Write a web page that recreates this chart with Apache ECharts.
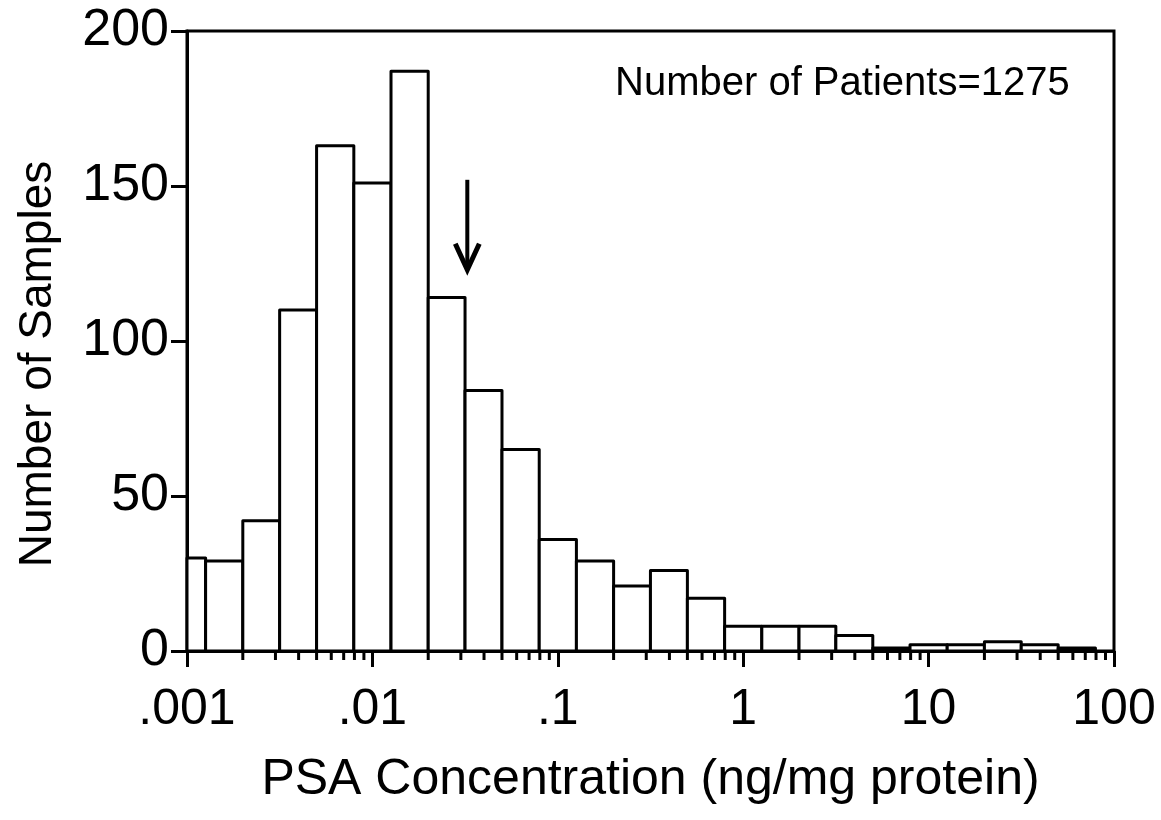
<!DOCTYPE html>
<html><head><meta charset="utf-8">
<script src="https://cdn.jsdelivr.net/npm/echarts@6/dist/echarts.min.js"></script>
<style>html,body{margin:0;padding:0;background:#fff}#c{width:1161px;height:820px}</style>
</head><body><div id="c"></div>
<script>
// Histogram bins (log-spaced, 0.2 decade wide; first bin clipped at axis min)
const binLower = [0.001, 0.00126, 0.002, 0.00316, 0.005, 0.00794, 0.0126, 0.02, 0.0316, 0.05, 0.0794, 0.126, 0.2, 0.316, 0.5, 0.794, 1.26, 2, 3.16, 5, 7.94, 12.6, 20, 31.6, 50];
const binUpper = [0.00126, 0.002, 0.00316, 0.005, 0.00794, 0.0126, 0.02, 0.0316, 0.05, 0.0794, 0.126, 0.2, 0.316, 0.5, 0.794, 1.26, 2, 3.16, 5, 7.94, 12.6, 20, 31.6, 50, 79.4];
const sampleCounts = [30, 29, 42, 110, 163, 151, 187, 114, 84, 65, 36, 29, 21, 26, 17, 8, 8, 8, 5, 1, 2, 2, 3, 2, 1];
const xTickValues = [0.001, 0.01, 0.1, 1, 10, 100];
const xTickLabels = ['.001', '.01', '.1', '1', '10', '100'];
const minorMultipliers = [2, 3, 4, 5, 6, 7, 8, 9];
const arrowMark = [0.0325, 152, 123]; // x, start y, tip y (data units)
const annotation = 'Number of Patients=1275';

const FONT = '"Liberation Sans", Arial, sans-serif';
const minorTicks = [];
xTickValues.slice(0, -1).forEach(d => minorMultipliers.forEach(m => minorTicks.push([d * m])));
const barData = binLower.map((lo, i) => [lo, binUpper[i], sampleCounts[i]]);

const chart = echarts.init(document.getElementById('c'));
chart.setOption({
  backgroundColor: '#fff',
  animation: false,
  grid: {left: 187, right: 47, top: 31, bottom: 169, show: true, borderColor: '#000', borderWidth: 3,
         containLabel: false, outerBoundsMode: 'none'},
  xAxis: {
    type: 'log', logBase: 10, min: 0.001, max: 100, splitNumber: 5,
    name: 'PSA Concentration (ng/mg protein)', nameLocation: 'middle', nameGap: 104,
    nameTextStyle: {fontFamily: FONT, fontSize: 50, color: '#000'},
    axisLine: {lineStyle: {color: '#000', width: 3}},
    axisTick: {inside: false, length: 16, lineStyle: {color: '#000', width: 3}},
    minorTick: {show: false},
    splitLine: {show: false},
    axisLabel: {fontFamily: FONT, fontSize: 50, color: '#000', margin: 34,
      formatter: v => { const e = Math.round(Math.log10(v)); const i = xTickValues.findIndex(t => Math.round(Math.log10(t)) === e); return i >= 0 ? xTickLabels[i] : ''; }}
  },
  yAxis: {
    type: 'value', min: 0, max: 200, interval: 50,
    name: 'Number of Samples', nameLocation: 'middle', nameGap: 126,
    nameTextStyle: {fontFamily: FONT, fontSize: 46, color: '#000', padding: [0, 46, 0, 0]},
    axisLine: {show: true, lineStyle: {color: '#000', width: 3}},
    axisTick: {show: true, inside: false, length: 16, lineStyle: {color: '#000', width: 3}},
    splitLine: {show: false},
    axisLabel: {fontFamily: FONT, fontSize: 52, color: '#000', margin: 18}
  },
  graphic: [{type: 'text', left: 615, top: 64, style: {text: annotation, font: '40px ' + FONT, fill: '#000'}}],
  series: [
    {
      type: 'custom', name: 'bars', clip: false, data: barData, encode: {x: [0, 1], y: 2},
      renderItem: (p, api) => {
        const a = api.coord([api.value(0), 0]);
        const b = api.coord([api.value(1), api.value(2)]);
        return {type: 'rect', shape: {x: a[0], y: b[1], width: b[0] - a[0], height: a[1] - b[1]},
                style: {fill: '#fff', stroke: '#000', lineWidth: 3, lineJoin: 'round'}};
      }
    },
    {
      type: 'custom', name: 'minorTicks', clip: false, silent: true, data: minorTicks, encode: {x: 0},
      renderItem: (p, api) => {
        const a = api.coord([api.value(0), 0]);
        return {type: 'line', shape: {x1: a[0], y1: a[1], x2: a[0], y2: a[1] + 9},
                style: {stroke: '#000', lineWidth: 3}};
      }
    },
    {
      type: 'custom', name: 'arrow', clip: false, silent: true, data: [arrowMark], encode: {x: 0, y: [1, 2]},
      renderItem: (p, api) => {
        const s = api.coord([api.value(0), api.value(1)]);
        const t = api.coord([api.value(0), api.value(2)]);
        return {type: 'group', children: [
          {type: 'line', shape: {x1: s[0], y1: s[1], x2: t[0], y2: t[1]}, style: {stroke: '#000', lineWidth: 4}},
          {type: 'polyline', shape: {points: [[t[0] - 12, t[1] - 26], [t[0], t[1]], [t[0] + 12, t[1] - 26]]},
           style: {stroke: '#000', lineWidth: 5, fill: 'none', lineJoin: 'miter'}}
        ]};
      }
    }
  ]
});
</script></body></html>
